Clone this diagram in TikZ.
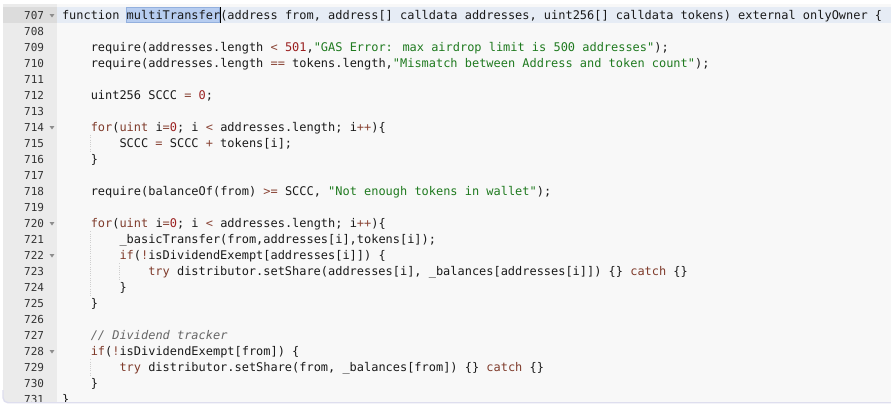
\documentclass[tikz,border=0pt]{standalone}
\usepackage{fontspec}
\newfontfamily\codefont{DejaVu Sans Mono}
\definecolor{codebg}{HTML}{F8F8F8}
\definecolor{gutterbg}{HTML}{EBEBEB}
\definecolor{gutteract}{HTML}{DCDCDC}
\definecolor{actline}{HTML}{E6ECF5}
\definecolor{selbg}{HTML}{B7CDF0}
\definecolor{selborder}{HTML}{93B0DE}
\definecolor{plain}{HTML}{1A1A1A}
\definecolor{lncol}{HTML}{333333}
\definecolor{kwc}{HTML}{7F3B2B}
\definecolor{opc}{HTML}{8A4536}
\definecolor{numc}{HTML}{9A1F1F}
\definecolor{strc}{HTML}{1F7A1F}
\definecolor{cmtc}{HTML}{666666}
\definecolor{guide}{HTML}{CFCFCF}
\definecolor{bordercol}{HTML}{DEDEEE}
\newcommand\kw[1]{\textcolor{kwc}{#1}}
\newcommand\op[1]{\textcolor{opc}{#1}}
\newcommand\nm[1]{\textcolor{numc}{#1}}
\newcommand\st[1]{\textcolor{strc}{#1}}
\newcommand\cm[1]{\textcolor{cmtc}{\itshape #1}}
\tikzset{
  codetext/.style={anchor=base west, inner sep=0pt, outer sep=0pt, text=plain,
    font=\codefont\fontsize{11.95}{16}\selectfont},
  lnum/.style={anchor=base east, inner sep=0pt, outer sep=0pt, text=lncol,
    font=\codefont\fontsize{11}{16}\selectfont},
  foldtri/.style={fill=black!45, draw=none},
  guideline/.style={draw=guide, line width=0.8pt, dash pattern=on 1pt off 1.2pt},
}
% #1 name, #2 row index (0 = line 707), #3 indent in characters, #4 text
\newcommand\codeln[4]{\node[codetext] (#1) at ({62+7.19*#3},{19.6+16*#2}) {#4};}
\begin{document}
\begin{tikzpicture}[x=1pt,y=-1pt]
\useasboundingbox (0,0) rectangle (891,409);
\fill[white] (0,0) rectangle (891,409);
\begin{scope}
\clip[rounded corners=5pt] (3,-6) rectangle (900,402);
\fill[codebg] (3,-6) rectangle (900,402);
\fill[gutterbg] (3,-6) rectangle (57,402);
% active line
\fill[actline] (57,7.3) rectangle (900,23.3);
\fill[gutteract] (3,7.3) rectangle (57,23.3);
% selection and cursor
\fill[selbg] (126,7.8) rectangle (219.5,22.8);
\draw[selborder, line width=0.6pt] (126,7.8) rectangle (219.5,22.8);
% indent guides
\draw[guideline] (90.7,135.3) -- (90.7,151.3);
\draw[guideline] (90.7,231.3) -- (90.7,295.3);
\draw[guideline] (119.5,263.3) -- (119.5,279.3);
\draw[guideline] (90.7,359.3) -- (90.7,375.3);
% line numbers
\foreach \n [count=\i from 0] in {707,...,731} {
  \node[lnum] (ln\n) at (44,{19.6+16*\i}) {\n};
}
% fold markers
\foreach \r in {0,7,13,15,21} {
  \fill[foldtri] (49.6,{14.1+16*\r}) -- (54.4,{14.1+16*\r}) -- (52,{17.5+16*\r}) -- cycle;
}
% code
\codeln{l707}{0}{0}{function multiTransfer(address from, address[] calldata addresses, uint256[] calldata tokens) external onlyOwner \{}
\codeln{l709}{2}{4}{require(addresses.length \op{<} \nm{501},\st{"GAS Error: max airdrop limit is 500 addresses"});}
\codeln{l710}{3}{4}{require(addresses.length \op{==} tokens.length,\st{"Mismatch between Address and token count"});}
\codeln{l712}{5}{4}{uint256 SCCC \op{=} \nm{0};}
\codeln{l714}{7}{4}{\kw{for}(\kw{uint} i\op{=}\nm{0}; i \op{<} addresses.length; i\op{++})\{}
\codeln{l715}{8}{8}{SCCC \op{=} SCCC \op{+} tokens[i];}
\codeln{l716}{9}{4}{\}}
\codeln{l718}{11}{4}{require(balanceOf(from) \op{>=} SCCC, \st{"Not enough tokens in wallet"});}
\codeln{l720}{13}{4}{\kw{for}(\kw{uint} i\op{=}\nm{0}; i \op{<} addresses.length; i\op{++})\{}
\codeln{l721}{14}{8}{\_basicTransfer(from,addresses[i],tokens[i]);}
\codeln{l722}{15}{8}{\kw{if}(\op{!}isDividendExempt[addresses[i]]) \{}
\codeln{l723}{16}{12}{\kw{try} distributor.setShare(addresses[i], \_balances[addresses[i]]) \{\} \kw{catch} \{\}}
\codeln{l724}{17}{8}{\}}
\codeln{l725}{18}{4}{\}}
\codeln{l727}{20}{4}{\cm{// Dividend tracker}}
\codeln{l728}{21}{4}{\kw{if}(\op{!}isDividendExempt[from]) \{}
\codeln{l729}{22}{8}{\kw{try} distributor.setShare(from, \_balances[from]) \{\} \kw{catch} \{\}}
\codeln{l730}{23}{4}{\}}
\codeln{l731}{24}{0}{\}}
% cursor
\draw[black, line width=1.1pt] (220.2,7.3) -- (220.2,23.3);
\end{scope}
% top strip above the panel
\fill[white] (0,0) rectangle (891,4);
% bottom border
\draw[bordercol, line width=1.4pt, rounded corners=5pt] (3,390) -- (3,402.7) -- (895,402.7);
\end{tikzpicture}
\end{document}
